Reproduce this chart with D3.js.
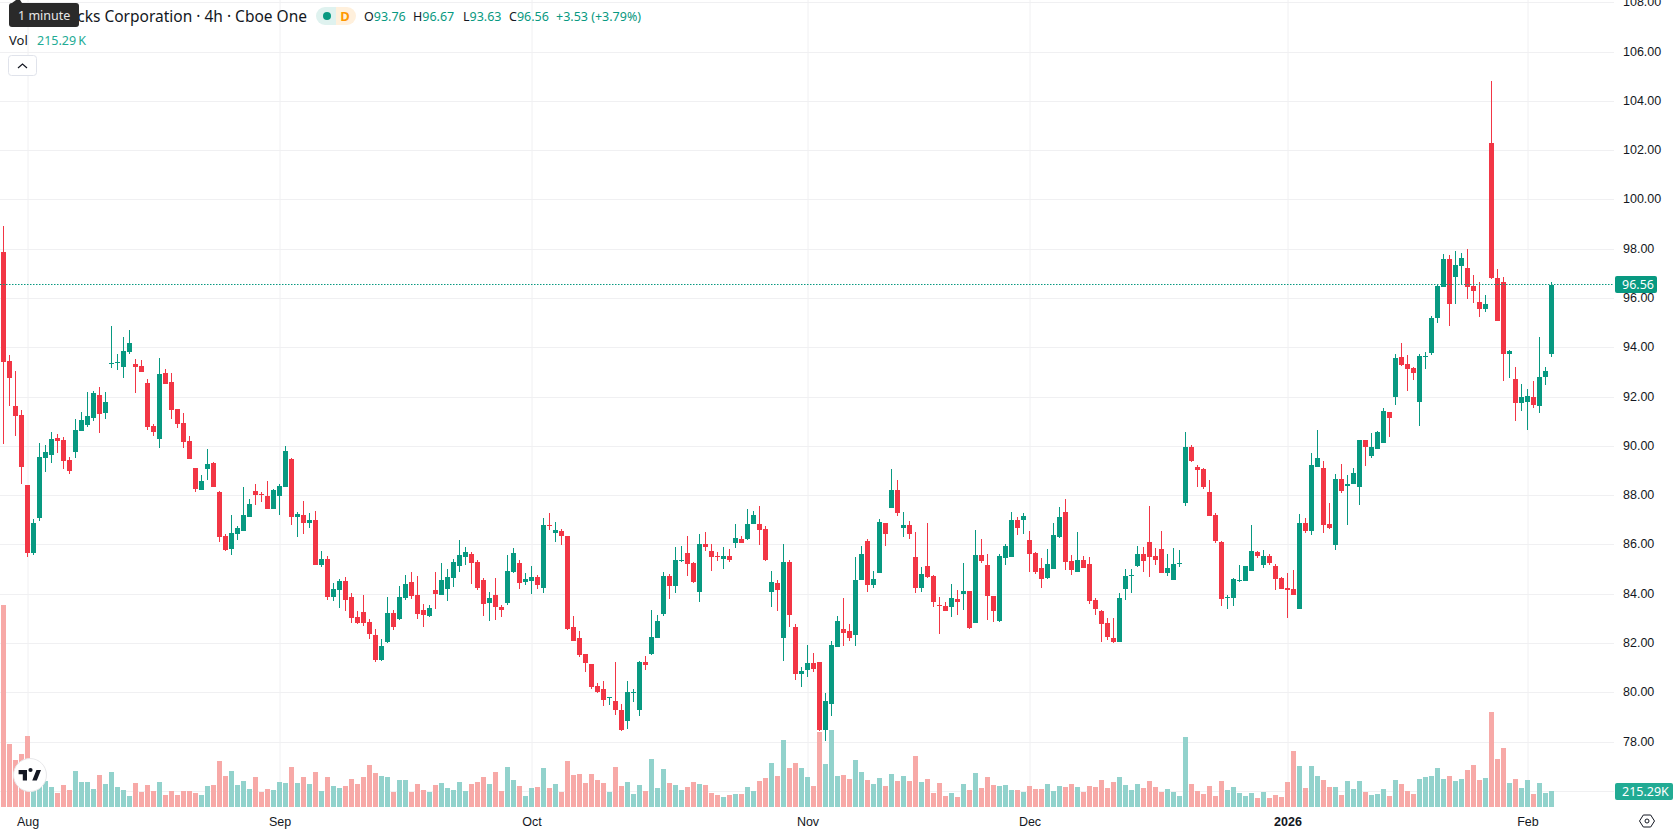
<!DOCTYPE html>
<html>
<head>
<meta charset="utf-8">
<script src="https://cdn.jsdelivr.net/npm/d3@7/dist/d3.min.js"></script>
<style>
  html, body { margin: 0; padding: 0; background: #fff; overflow: hidden; }
  svg { display: block; font-family: "Noto Sans", sans-serif; }
  .price-axis text, .time-axis text { fill: #131722; font-size: 12.5px; }
</style>
</head>
<body>
<svg id="chart" width="1678" height="835"></svg>
<script>
// 4h candles, one value per bar
const open = [
97.89,93.46,91.64,91.27,88.43,85.67,87.09,89.53,89.65,90.34,
90.26,89.45,89.77,90.62,90.87,91.15,92.08,91.35,93.34,93.38,
93.22,93.83,93.34,93.26,92.57,90.83,90.30,92.98,92.61,91.52,
90.95,90.22,89.12,88.23,89.08,89.32,88.15,86.36,85.83,86.44,
86.56,87.13,88.19,88.06,87.98,87.46,87.98,88.35,89.49,87.13,
87.21,86.89,87.01,85.18,85.43,83.88,84.17,84.53,83.88,83.07,
83.27,82.87,82.34,81.33,82.06,83.23,82.99,83.84,84.49,83.96,
83.36,83.11,84.17,83.96,84.21,84.65,85.14,85.51,85.63,85.30,
84.57,83.64,83.96,83.48,83.64,84.90,85.26,84.49,84.53,84.70,
84.25,86.81,86.48,86.56,86.36,82.67,82.22,81.57,81.16,80.27,
80.15,79.78,79.66,79.30,78.85,79.99,79.30,81.24,81.57,82.22,
83.19,84.74,84.33,85.35,85.67,85.26,84.09,86.04,85.75,85.55,
85.43,85.55,86.08,86.24,86.24,86.85,86.85,86.64,84.09,84.45,
82.22,85.30,82.67,80.76,80.92,81.20,81.24,78.48,79.54,81.85,
82.58,82.50,82.34,84.57,86.16,84.37,84.86,86.89,87.50,88.23,
86.68,86.81,85.51,84.25,85.14,84.74,83.56,83.52,83.48,83.80,
84.01,84.13,82.83,85.59,85.18,83.92,82.91,85.47,85.51,87.01,
87.01,86.20,85.67,85.06,84.65,85.02,86.32,87.33,85.35,84.90,
85.39,85.22,83.76,83.32,82.83,82.22,82.06,84.21,84.74,85.14,
85.63,86.12,85.55,85.83,84.86,84.57,85.22,87.70,89.97,89.16,
89.08,88.15,87.21,86.12,83.84,83.84,84.53,84.53,84.94,85.71,
85.18,85.55,85.14,84.65,84.25,84.21,83.40,86.89,86.56,89.16,
89.12,86.85,85.99,88.67,88.39,88.47,88.35,90.26,89.61,89.89,
90.14,91.39,92.00,93.63,93.34,93.18,91.80,93.63,93.79,95.21,
96.47,97.60,96.87,97.32,97.24,96.51,95.86,95.58,102.31,96.83,
96.67,93.75,92.73,91.76,91.80,92.00,91.64,92.81,93.76
];
const high = [
98.92,93.71,93.06,91.47,88.43,87.05,90.14,90.05,90.58,90.50,
90.38,89.57,91.11,91.39,92.21,92.25,92.41,92.21,94.88,93.75,
94.44,94.72,93.55,93.50,92.73,90.91,93.59,93.14,92.98,91.52,
91.35,90.42,89.12,88.84,89.89,89.36,88.19,86.44,87.21,86.77,
88.35,87.86,88.47,88.15,88.59,88.27,88.47,90.01,89.53,87.33,
87.78,87.29,87.37,85.75,85.55,84.45,84.61,84.70,84.05,83.32,
83.96,82.99,82.58,82.18,83.88,83.36,84.33,84.78,84.90,84.74,
83.60,83.56,84.90,85.26,85.02,85.43,86.20,85.91,85.71,85.39,
84.65,84.09,84.65,83.56,85.59,85.87,85.39,84.86,85.14,84.78,
87.09,87.29,86.93,86.64,86.36,83.11,82.50,81.57,81.16,80.39,
80.47,79.82,81.24,79.54,80.47,80.15,81.29,81.49,83.36,83.15,
84.90,84.82,85.91,85.95,86.36,85.30,86.44,86.52,86.04,85.71,
85.91,85.83,86.85,86.36,87.46,87.37,87.58,86.77,84.94,84.57,
86.04,85.39,82.79,81.04,81.93,81.61,81.24,79.99,82.10,83.11,
83.84,82.79,85.51,85.95,86.24,84.94,87.05,86.89,89.08,88.63,
87.33,86.97,86.52,85.10,86.89,84.78,83.88,83.68,84.41,84.17,
85.26,84.13,86.60,86.24,85.63,83.92,85.63,86.04,87.33,87.13,
87.29,86.56,85.71,85.47,85.83,86.89,87.54,87.86,85.59,86.52,
85.55,85.51,83.84,83.36,83.03,83.03,84.05,85.02,85.02,85.95,
85.91,87.58,85.87,86.56,85.63,85.87,85.79,90.58,90.05,89.24,
89.12,88.63,87.29,86.16,83.96,84.65,85.18,85.14,86.81,85.75,
85.79,85.63,85.22,84.70,84.86,84.98,87.25,87.09,89.73,90.66,
89.40,87.70,88.88,89.28,88.84,89.12,90.26,90.26,90.54,90.62,
91.56,91.39,93.75,94.19,93.71,93.22,93.75,93.83,95.29,96.59,
97.81,97.77,97.93,97.85,98.01,96.96,96.67,96.14,104.83,97.20,
96.87,93.91,93.22,92.53,92.33,92.65,94.44,93.22,96.67
];
const low = [
90.09,91.64,90.42,88.47,85.51,85.59,86.97,88.96,89.32,89.73,
89.08,88.88,89.53,90.62,90.78,91.03,90.54,91.11,93.18,93.10,
92.77,93.75,92.17,93.02,90.66,90.42,89.93,92.53,91.11,90.74,
89.93,89.49,88.15,88.23,88.63,88.35,86.12,85.75,85.59,86.20,
86.56,87.13,87.62,87.74,87.46,87.46,87.21,88.35,86.81,86.32,
86.44,86.68,85.18,85.10,83.76,83.72,83.44,83.32,82.83,82.79,
82.71,82.18,81.24,81.29,82.02,82.54,82.95,83.76,83.80,82.99,
82.67,83.07,83.40,83.96,83.72,84.29,84.90,85.18,84.41,84.17,
83.11,82.91,82.95,83.07,83.56,84.86,84.21,84.37,84.00,84.21,
84.05,86.60,86.12,85.99,82.54,82.10,81.45,80.84,80.15,79.99,
79.46,79.50,79.09,78.44,78.52,79.62,79.05,80.92,81.53,82.22,
83.11,83.80,84.05,85.30,84.74,84.45,83.68,85.75,84.94,85.34,
85.02,85.30,85.87,86.08,86.20,86.85,85.99,85.35,83.48,83.32,
81.29,82.67,80.51,80.23,80.64,80.84,78.44,78.04,79.05,81.85,
81.89,82.10,81.89,84.57,84.09,84.25,84.86,85.95,87.50,87.17,
86.32,86.24,84.04,84.09,84.65,83.48,82.38,83.32,83.07,83.15,
83.36,82.58,82.83,85.26,82.95,82.87,82.87,85.18,85.51,86.40,
86.44,84.90,84.82,84.25,84.61,85.02,86.28,84.98,84.78,84.90,
85.06,83.60,83.15,82.06,82.14,82.02,82.06,83.76,84.05,85.10,
84.90,84.70,85.18,84.86,84.74,84.57,85.10,87.58,89.36,88.35,
88.27,87.17,86.08,83.52,83.40,83.52,84.49,84.53,84.94,85.47,
85.06,85.18,84.17,84.21,83.03,83.96,83.40,86.48,86.40,89.16,
86.48,86.64,85.79,88.11,86.81,88.47,87.62,89.20,89.53,89.89,
90.14,90.38,91.68,93.26,92.25,92.69,90.83,93.14,93.71,95.01,
96.47,94.88,95.78,96.55,95.98,95.82,95.25,95.45,96.79,95.09,
92.65,92.77,91.03,91.43,90.66,91.56,91.35,92.49,93.63
];
const close = [
93.44,92.77,91.23,89.16,85.67,86.89,89.57,89.77,90.30,90.22,
89.40,89.00,90.66,91.07,91.23,92.17,91.31,91.80,93.37,93.42,
93.87,94.19,93.22,93.02,90.78,90.58,92.94,92.53,91.47,90.91,
90.18,89.49,88.27,88.59,89.28,88.35,86.32,85.79,86.48,86.68,
87.21,87.66,88.02,88.02,87.46,88.23,88.39,89.81,87.13,87.25,
86.89,87.01,85.18,85.43,83.88,84.21,84.53,83.76,83.03,82.83,
82.83,82.38,81.33,81.89,83.23,82.67,83.88,84.41,83.92,83.19,
83.15,83.44,84.01,84.57,84.70,85.30,85.59,85.71,85.26,84.25,
83.60,83.84,83.48,83.36,84.94,85.67,84.45,84.61,84.70,84.37,
86.81,86.77,86.60,86.36,82.58,82.10,81.53,81.20,80.23,80.03,
79.70,79.82,79.30,78.48,80.03,80.03,81.24,81.12,82.26,82.91,
84.74,84.33,85.39,85.39,85.22,84.48,86.04,85.91,85.51,85.51,
85.55,85.39,86.28,86.08,86.85,87.21,86.60,85.39,84.49,84.17,
85.30,83.15,80.76,80.88,81.20,80.96,78.48,79.66,81.93,82.91,
82.42,82.22,84.57,85.63,84.37,84.61,86.93,86.44,88.23,87.29,
86.81,86.44,84.25,84.82,84.70,83.68,83.52,83.32,83.84,83.68,
84.13,82.62,85.59,85.35,83.92,83.32,85.55,85.95,87.01,86.68,
87.17,85.63,84.90,84.61,85.22,86.40,87.13,85.30,84.98,85.39,
85.06,83.72,83.40,82.79,82.26,82.06,83.84,84.74,84.78,85.63,
85.35,85.51,85.39,84.86,85.06,85.22,85.26,89.97,89.40,89.04,
88.35,87.17,86.16,83.80,83.88,84.61,84.57,85.14,85.75,85.55,
85.55,85.26,84.61,84.21,84.17,83.96,86.89,86.56,89.24,89.53,
86.81,86.68,88.67,88.19,88.47,88.92,90.26,89.97,89.97,90.58,
91.43,91.15,93.59,93.30,93.14,92.98,93.67,93.67,95.21,96.51,
97.60,95.78,97.36,97.65,96.47,96.31,95.58,95.78,96.83,95.09,
93.75,93.87,91.76,92.00,92.04,91.68,92.81,93.06,96.56
];
// Volume per bar, in thousands of shares
const volume = [
2727,850.5,634.5,715.5,958.5,225,297,351,270,189,
297,229.5,486,337.5,337.5,243,432,310.5,472.5,270,
229.5,148.5,324,202.5,297,216,337.5,162,216,162,
216,216,189,162,283.5,297,621,418.5,486,297,
351,243,405,202.5,243,229.5,337.5,324,540,324,
405,310.5,472.5,216,405,283.5,256.5,283.5,378,310.5,
405,567,459,418.5,405,202.5,364.5,364.5,202.5,310.5,
229.5,202.5,297,324,256.5,229.5,337.5,216,310.5,337.5,
405,310.5,472.5,216,540,364.5,283.5,148.5,256.5,270,
526.5,256.5,310.5,202.5,621,432,445.5,324,445.5,364.5,
324,202.5,540,283.5,337.5,175.5,297,216,648,256.5,
513,324,297,229.5,270,337.5,310.5,297,189,162,
135,162,175.5,175.5,270,216,351,391.5,594,418.5,
904.5,526.5,594,526.5,405,283.5,1012.5,580.5,1039.5,418.5,
432,378,634.5,472.5,364.5,310.5,391.5,283.5,445.5,351,
418.5,351,688.5,337.5,378,189,324,148.5,189,135,
310.5,229.5,459,256.5,405,297,283.5,297,229.5,229.5,
202.5,283.5,243,243,310.5,216,283.5,270,310.5,270,
202.5,283.5,270,364.5,256.5,337.5,405,297,229.5,310.5,
256.5,351,270,202.5,243,202.5,148.5,945,310.5,216,
175.5,283.5,148.5,351,229.5,270,189,148.5,189,121.5,
202.5,121.5,162,135,337.5,756,553.5,256.5,553.5,418.5,
364.5,270,270,162,351,243,351,202.5,162,175.5,
243,148.5,364.5,310.5,216,175.5,378,405,418.5,526.5,
378,418.5,351,378,499.5,567,364.5,391.5,1282.5,648,
796.5,324,378,256.5,364.5,175.5,324,189,215.29
];
// Axis ticks
const priceTicks = [76, 78, 80, 82, 84, 86, 88, 90, 92, 94, 96, 98, 100, 102, 104, 106, 108];
const timeBars = [4, 46, 88, 134, 171, 214, 254];
const timeLabels = ["Aug", "Sep", "Oct", "Nov", "Dec", "2026", "Feb"];
const titleText = "Starbucks Corporation · 4h · Cboe One";
const changeText = "+3.53 (+3.79%)";

const UP = "#089981", DOWN = "#F23645", UP_VOL = "#92D2CC", DOWN_VOL = "#F7A9A7";
const GRID = "#f0f0f2";
const LAST = open.length - 1;
const isUp = i => close[i] >= open[i];

const svg = d3.select("#chart");
const paneRight = 1614, volBase = 807;

const x = d3.scaleLinear().domain([0, LAST]).range([3.5, 1551.5]);
const y = d3.scaleLinear().domain([90, 104]).range([446.3, 101.3]);
const v = d3.scaleLinear().domain([0, 2727]).range([volBase, 605]);
const snap = p => Math.floor(p) + 0.5;

// Horizontal grid and price labels come from one right-hand axis
const priceAxis = d3.axisRight(y)
  .tickValues(priceTicks)
  .tickFormat(d3.format(".2f"))
  .tickSizeInner(-paneRight)
  .tickSizeOuter(0)
  .tickPadding(9);
const pa = svg.append("g").attr("class", "price-axis")
  .attr("transform", `translate(${paneRight},0)`).call(priceAxis);
pa.select(".domain").remove();
pa.selectAll(".tick").attr("transform", d => `translate(0,${snap(y(d))})`);
pa.selectAll(".tick line").attr("stroke", GRID);
pa.selectAll(".tick text").attr("dy", "0.25em");

// Month ticks with vertical grid lines up the whole pane
const timeAxis = d3.axisBottom(x)
  .tickValues(timeBars)
  .tickFormat((d, i) => timeLabels[i])
  .tickSizeInner(-volBase)
  .tickSizeOuter(0)
  .tickPadding(8);
const ta = svg.append("g").attr("class", "time-axis")
  .attr("transform", `translate(0,${volBase})`).call(timeAxis);
ta.select(".domain").remove();
ta.selectAll(".tick line").attr("stroke", GRID);
ta.selectAll(".tick text").attr("dy", "0.9em")
  .style("font-weight", (d, i) => timeLabels[i] === "2026" ? 700 : 400);

const bars = d3.range(open.length);

// Volume pane
svg.append("g").attr("shape-rendering", "crispEdges").selectAll("rect")
  .data(bars).join("rect")
  .attr("x", i => x(i) - 2.5)
  .attr("width", 5)
  .attr("y", i => Math.round(v(volume[i])))
  .attr("height", i => volBase - Math.round(v(volume[i])))
  .attr("fill", i => isUp(i) ? UP_VOL : DOWN_VOL);

// Candles: wick first, then body
const candles = svg.append("g").attr("shape-rendering", "crispEdges");
candles.selectAll("rect.wick").data(bars).join("rect").attr("class", "wick")
  .attr("x", i => x(i) - 0.5)
  .attr("width", 1)
  .attr("y", i => Math.round(y(high[i])))
  .attr("height", i => Math.max(1, Math.round(y(low[i])) - Math.round(y(high[i]))))
  .attr("fill", i => isUp(i) ? UP : DOWN);
candles.selectAll("rect.body").data(bars).join("rect").attr("class", "body")
  .attr("x", i => x(i) - 2.5)
  .attr("width", 5)
  .attr("y", i => Math.round(y(Math.max(open[i], close[i]))))
  .attr("height", i => Math.max(1, Math.round(y(Math.min(open[i], close[i]))) - Math.round(y(Math.max(open[i], close[i])))))
  .attr("fill", i => isUp(i) ? UP : DOWN);

// Last price line and its label
const lastY = snap(y(close[LAST]));
svg.append("line").attr("x1", 0).attr("x2", paneRight)
  .attr("y1", lastY).attr("y2", lastY)
  .attr("stroke", UP).attr("stroke-dasharray", "1.5 1.5");
svg.append("rect").attr("x", 1615).attr("y", lastY - 8.5).attr("width", 42).attr("height", 17)
  .attr("rx", 2).attr("fill", UP);
svg.append("text").attr("x", 1622).attr("y", lastY + 4.5)
  .attr("fill", "#fff").attr("font-size", 12.5).text(d3.format(".2f")(close[LAST]));

// Last volume label
svg.append("rect").attr("x", 1615).attr("y", 783).attr("width", 58).attr("height", 17)
  .attr("rx", 2).attr("fill", "#22AB94");
svg.append("text").attr("x", 1622).attr("y", 796)
  .attr("fill", "#fff").attr("font-size", 12.5).text(d3.format(".2f")(volume[LAST]) + "K");

// Settings hexagon, bottom right
const gear = svg.append("g").attr("transform", "translate(1647,821)").attr("fill", "none").attr("stroke", "#131722");
gear.append("path").attr("d", "M-7.5,0L-3.7,-6H3.7L7.5,0L3.7,6H-3.7Z");
gear.append("circle").attr("r", 2);

// Watermark logo
const logo = svg.append("g");
logo.append("circle").attr("cx", 30).attr("cy", 775).attr("r", 16.5).attr("fill", "#fff").attr("stroke", "#e8e8ea");
logo.append("path").attr("transform", "translate(17.2,765.8) scale(0.7)").attr("fill", "#131722")
  .attr("d", "M14 6H2v6h6v9h6V6Zm14 15h-6.5l6-15H34l-6 15Zm-6-15a3 3 0 1 1-6 0 3 3 0 0 1 6 0Z");

// Legend row: title, status pills and OHLC
svg.append("text").attr("x", 307).attr("y", 21.5).attr("text-anchor", "end")
  .attr("fill", "#131722").attr("font-size", 15.5).text(titleText);

svg.append("path").attr("d", "M325,7H336V25H325A9,9 0 0 1 325,7Z").attr("fill", "#dff2ef");
svg.append("path").attr("d", "M336,7H347A9,9 0 0 1 347,25H336Z").attr("fill", "#fff0dc");
svg.append("circle").attr("cx", 327).attr("cy", 16).attr("r", 4).attr("fill", UP);
svg.append("text").attr("x", 345).attr("y", 21).attr("text-anchor", "middle")
  .attr("fill", "#ff9800").attr("font-size", 13).attr("font-weight", 700).text("D");

const fmt = d3.format(".2f");
const ohlcStarts = [364, 413, 463, 509];
[["O", open[LAST]], ["H", high[LAST]], ["L", low[LAST]], ["C", close[LAST]]].forEach(([k, val], n) => {
  const t = svg.append("text").attr("x", ohlcStarts[n]).attr("y", 21).attr("font-size", 12.5);
  t.append("tspan").attr("fill", "#131722").text(k);
  t.append("tspan").attr("fill", UP).text(fmt(val));
});
svg.append("text").attr("x", 556).attr("y", 21).attr("font-size", 12.5).attr("fill", UP).text(changeText);

svg.append("text").attr("x", 9).attr("y", 45).attr("fill", "#131722").attr("font-size", 13).text("Vol");
svg.append("text").attr("x", 37).attr("y", 45).attr("fill", "#22AB94").attr("font-size", 12.5)
  .text(fmt(volume[LAST]) + "\u2009K");

// Collapse button
svg.append("rect").attr("x", 8.5).attr("y", 55.5).attr("width", 28).attr("height", 20).attr("rx", 3)
  .attr("fill", "#fff").attr("stroke", "#e0e3eb");
svg.append("path").attr("d", "M18,68L22.5,64L27,68").attr("fill", "none").attr("stroke", "#131722").attr("stroke-width", 1.2);

// Hover tooltip over the legend
svg.append("path").attr("d", "M12,3 L16,0 L20,0 L22,3Z").attr("fill", "#2a2a2a");
svg.append("rect").attr("x", 9).attr("y", 3).attr("width", 70).attr("height", 24).attr("rx", 3).attr("fill", "#2a2a2a");
svg.append("text").attr("x", 18).attr("y", 20).attr("fill", "#e8e8e8").attr("font-size", 12.5).text("1 minute");
</script>
</body>
</html>
